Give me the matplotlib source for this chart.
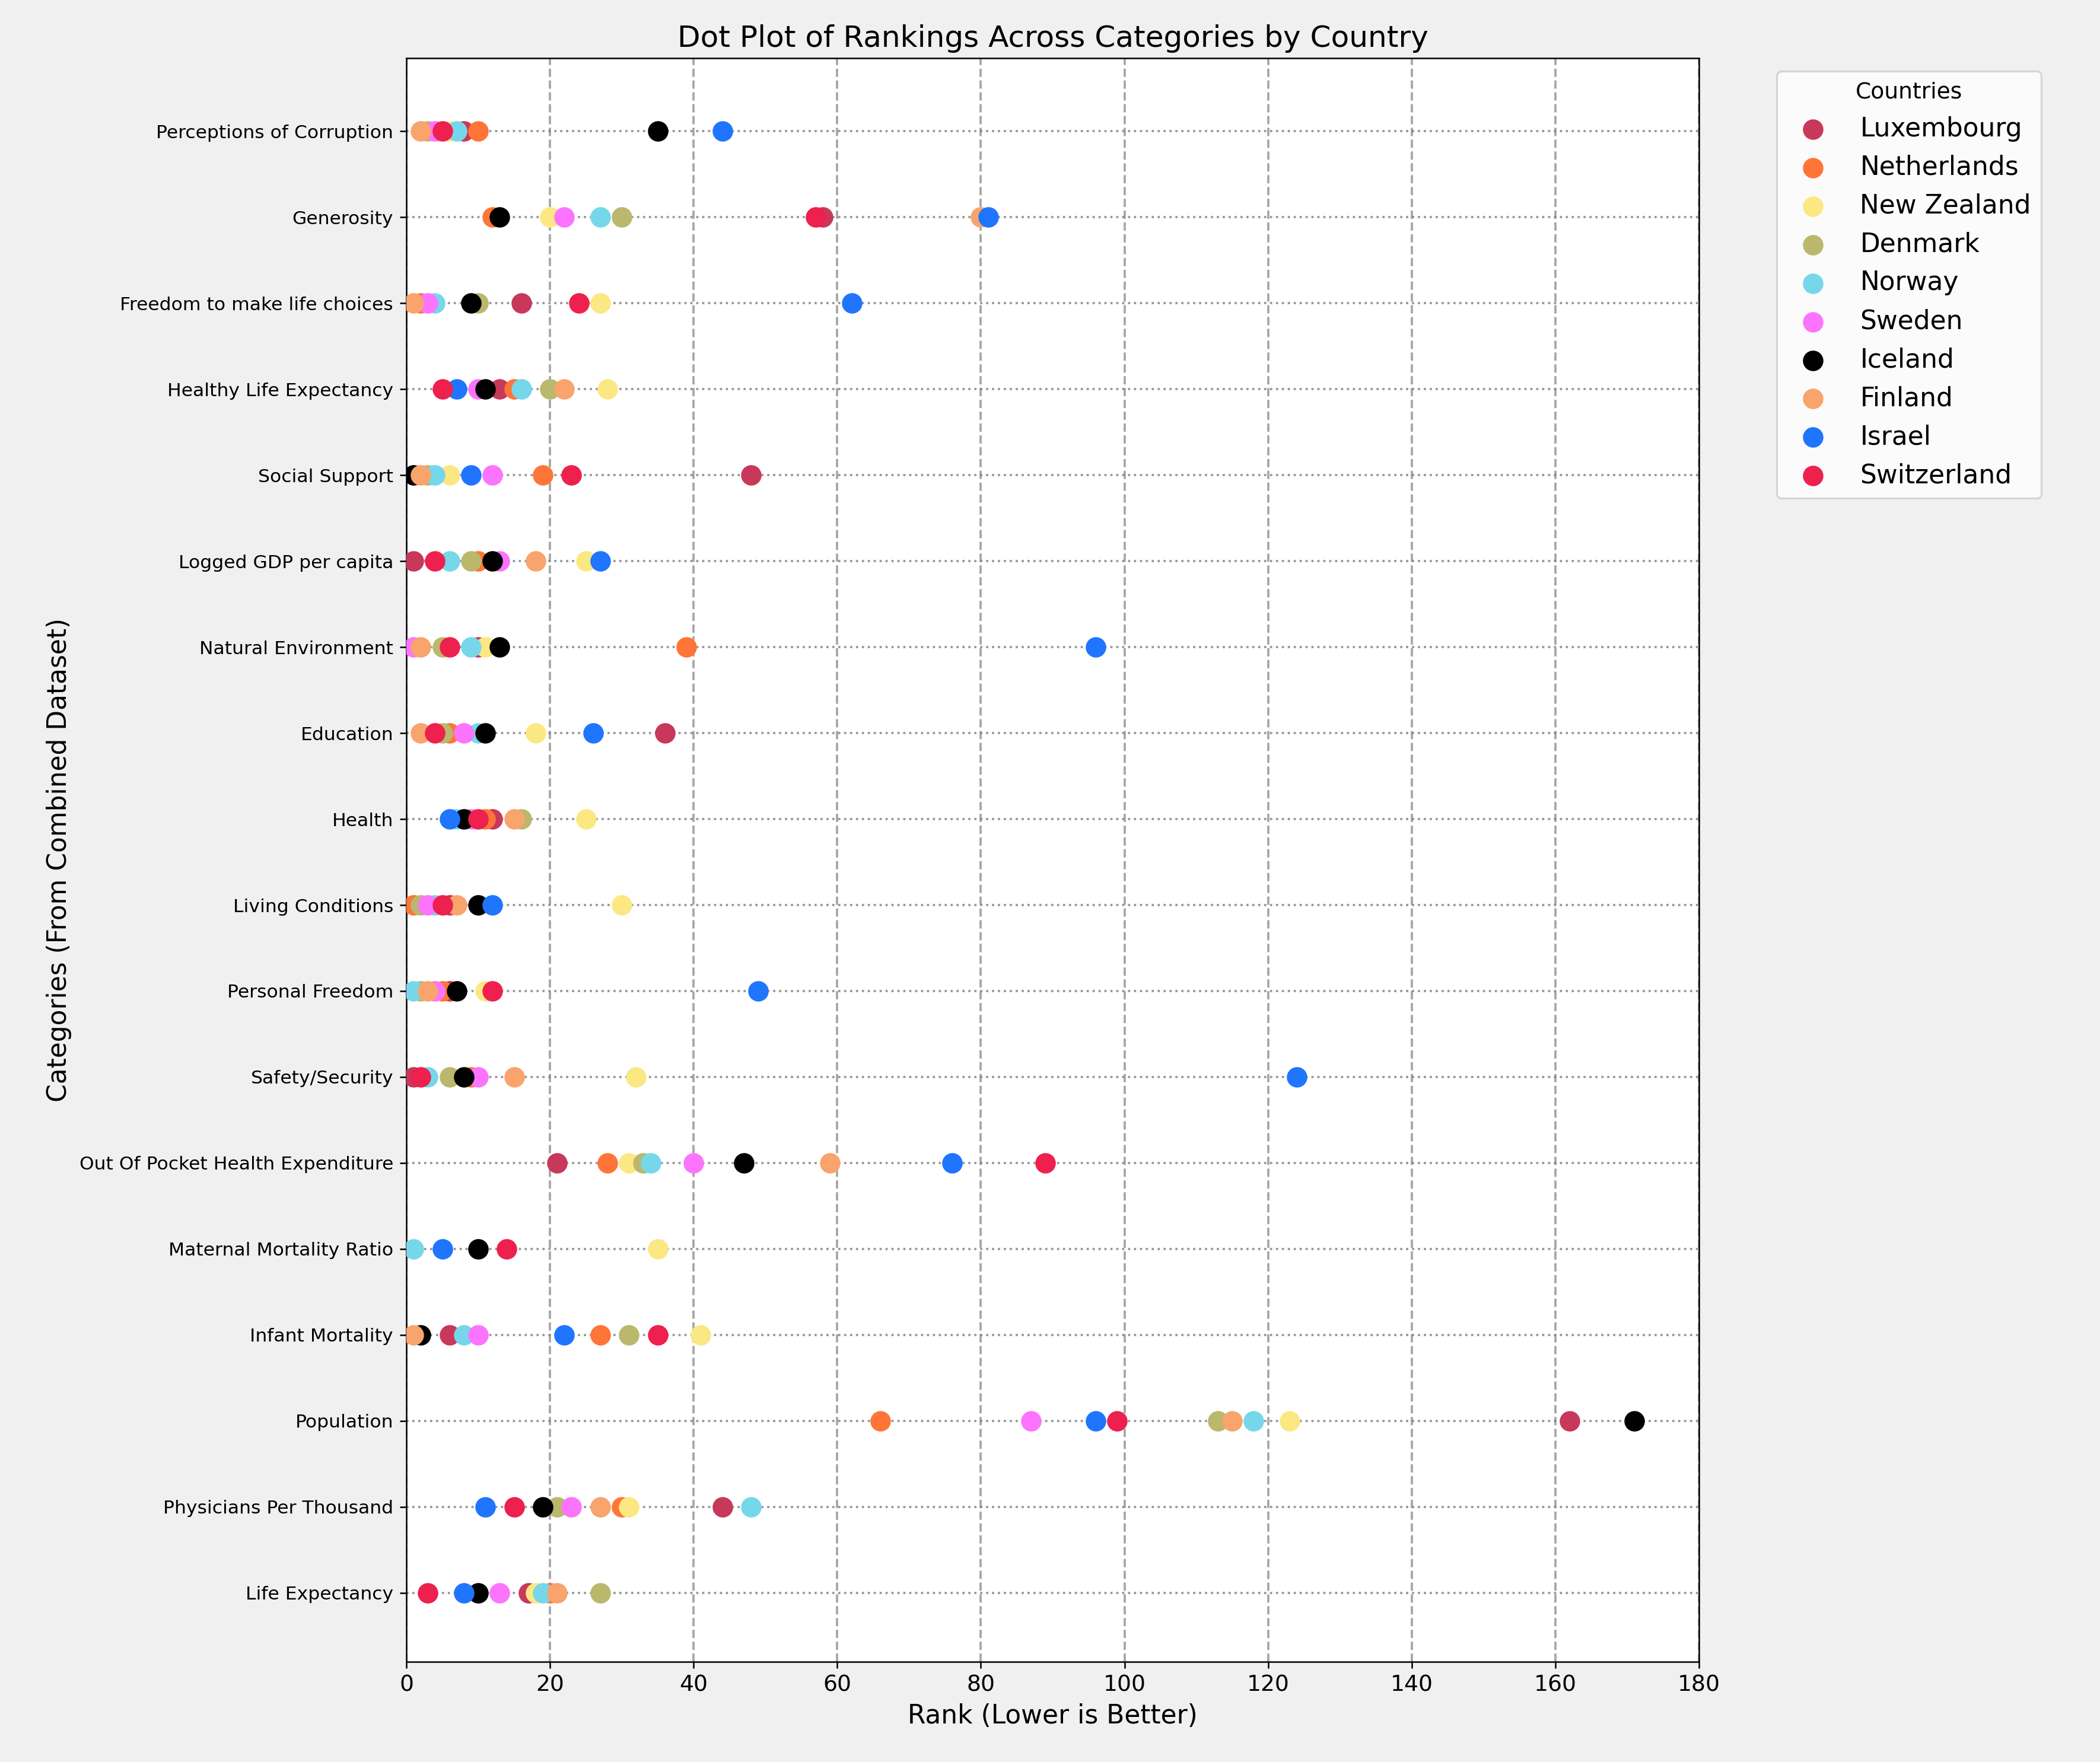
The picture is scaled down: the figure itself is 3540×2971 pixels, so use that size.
import matplotlib
matplotlib.use("Agg")
import matplotlib.pyplot as plt
import numpy as np

nan = np.nan
categories = ["Life Expectancy", "Physicians Per Thousand", "Population", "Infant Mortality",
              "Maternal Mortality Ratio", "Out Of Pocket Health Expenditure", "Safety/Security",
              "Personal Freedom", "Living Conditions", "Health", "Education", "Natural Environment",
              "Logged GDP per capita", "Social Support", "Healthy Life Expectancy",
              "Freedom to make life choices", "Generosity", "Perceptions of Corruption"]
countries = ["Luxembourg", "Netherlands", "New Zealand", "Denmark", "Norway", "Sweden",
             "Iceland", "Finland", "Israel", "Switzerland"]
colors = ["#C8385A", "#FF7538", "#FCE883", "#BAB86C", "#76D7EA", "#FC74FD",
          "#000000", "#F8A46C", "#1F75FE", "#EE204D"]

# values ordered as categories (bottom to top)
luxembourg  = [17, 44, 162, 6, nan, 21, 1, 6, 6, 12, 36, 10, 1, 48, 13, 16, 58, 8]
netherlands = [20, 30, 66, 27, nan, 28, 9, 5, 1, 11, 6, 39, 10, 19, 15, 2, 12, 10]
new_zealand = [18, 31, 123, 41, 35, 31, 32, 11, 30, 25, 18, 11, 25, 6, 28, 27, 20, 6]
denmark     = [27, 21, 113, 31, nan, 33, 6, 2, 2, 16, 5, 5, 9, 3, 20, 10, 30, 3]
norway      = [19, 48, 118, 8, 1, 34, 3, 1, 4, 7, 10, 9, 6, 4, 16, 4, 27, 7]
sweden      = [13, 23, 87, 10, nan, 40, 10, 4, 3, 9, 8, 1, 13, 12, 10, 3, 22, 4]
iceland     = [10, 19, 171, 2, 10, 47, 8, 7, 10, 8, 11, 13, 12, 1, 11, 9, 13, 35]
finland     = [21, 27, 115, 1, nan, 59, 15, 3, 7, 15, 2, 2, 18, 2, 22, 1, 80, 2]
israel      = [8, 11, 96, 22, 5, 76, 124, 49, 12, 6, 26, 96, 27, 9, 7, 62, 81, 44]
switzerland = [3, 15, 99, 35, 14, 89, 2, 12, 5, 10, 4, 6, 4, 23, 5, 24, 57, 5]
values = [luxembourg, netherlands, new_zealand, denmark, norway, sweden,
          iceland, finland, israel, switzerland]

fig = plt.figure(figsize=(15.68, 13.16), dpi=225.77, facecolor="#F0F0F0")
ax = fig.add_axes([0.1935, 0.057, 0.6155, 0.91])
ypos = np.arange(len(categories))
for y in ypos:
    ax.axhline(y, color="gray", linestyle=":", linewidth=1.2, alpha=0.8, zorder=0)
for name, col, vals in zip(countries, colors, values):
    ax.scatter(vals, ypos, s=100, color=col, label=name, zorder=3)
ax.set_yticks(ypos)
ax.set_yticklabels(categories, fontsize=10)
ax.set_xlim(0, 180)
ax.set_ylim(-0.8, 17.85)
ax.set_xticks(np.arange(0, 181, 20))
ax.tick_params(axis="x", labelsize=12)
ax.grid(axis="x", linestyle="--", color="gray", alpha=0.7, linewidth=1.2)
ax.set_axisbelow(True)
ax.set_xlabel("Rank (Lower is Better)", fontsize=14)
ax.set_ylabel("Categories (From Combined Dataset)", fontsize=14)
ax.set_title("Dot Plot of Rankings Across Categories by Country", fontsize=16)
ax.legend(title="Countries", fontsize=14, title_fontsize=12,
          bbox_to_anchor=(1.05, 1), loc="upper left")
fig.savefig("out.png", dpi=225.77, facecolor=fig.get_facecolor())
